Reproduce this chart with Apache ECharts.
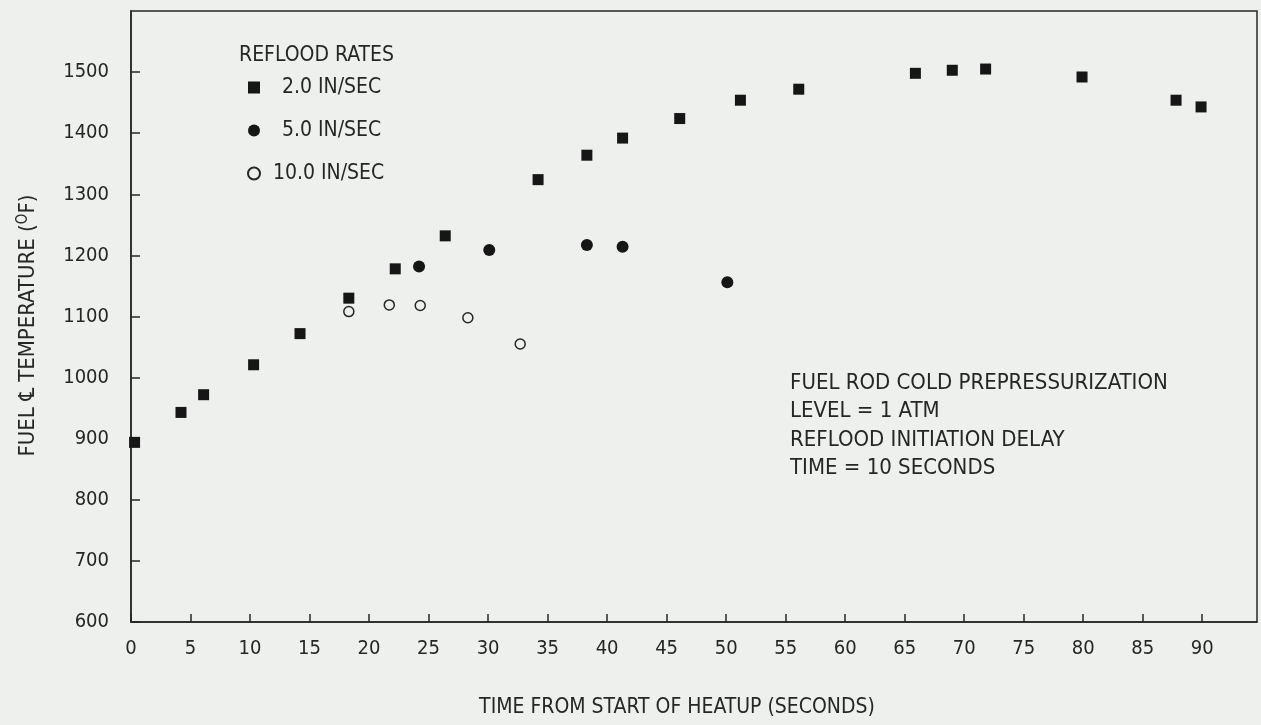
<!DOCTYPE html>
<html>
<head>
<meta charset="utf-8">
<script src="https://cdn.jsdelivr.net/npm/echarts@6/dist/echarts.min.js"></script>
<style>
html,body{margin:0;padding:0;background:#edf0ec;}
#chart{width:1261px;height:725px;}
</style>
</head>
<body>
<div id="chart"></div>
<script>
// Data: [time (s), fuel centerline temperature (°F)]
const rate20 = [
  [0.3, 894], [4.2, 943], [6.1, 972], [10.3, 1021], [14.2, 1072], [18.3, 1130],
  [22.2, 1178], [26.4, 1232], [34.2, 1324], [38.3, 1364], [41.3, 1392], [46.1, 1424],
  [51.2, 1454], [56.1, 1472], [65.9, 1498], [69.0, 1503], [71.8, 1505], [79.9, 1492],
  [87.8, 1454], [89.9, 1443]
];
const rate50 = [
  [24.2, 1182], [30.1, 1209], [38.3, 1217], [41.3, 1214], [50.1, 1156]
];
const rate100 = [
  [18.3, 1108], [21.7, 1119], [24.3, 1118], [28.3, 1098], [32.7, 1055]
];
const seriesNames = ['2.0 IN/SEC', '5.0 IN/SEC', '10.0 IN/SEC'];
const xTicks = [0, 94.6, 5];     // min, max, interval
const yTicks = [600, 1600, 100]; // min, max, interval
const legendTitle = 'REFLOOD RATES';
const noteLines = ['FUEL ROD COLD PREPRESSURIZATION', 'LEVEL = 1 ATM', 'REFLOOD INITIATION DELAY', 'TIME = 10 SECONDS'];
const xName = 'TIME FROM START OF HEATUP (SECONDS)';
const yName = 'FUEL \u2104 TEMPERATURE ({s|O}F)';

const FONT = "'DejaVu Sans Condensed','Liberation Sans Narrow','Liberation Sans',sans-serif";
const INK = '#262626';
const MARK = '#161616';

const chart = echarts.init(document.getElementById('chart'), null, {renderer: 'canvas'});
chart.setOption({
  backgroundColor: '#edf0ec',
  animation: false,
  textStyle: {fontFamily: FONT, color: INK},
  title: [
    {text: legendTitle, left: 239, top: 45, padding: 0,
     textStyle: {fontFamily: FONT, fontSize: 21, fontWeight: 'normal', color: INK}},
    {text: noteLines.join('\n'), left: 790, top: 369, padding: 0,
     textStyle: {fontFamily: FONT, fontSize: 22, fontWeight: 'normal', color: INK, lineHeight: 28.5}}
  ],
  legend: {
    orient: 'vertical', left: 242, top: 72, itemGap: 22, itemWidth: 12, itemHeight: 12,
    textStyle: {fontFamily: FONT, fontSize: 21, color: INK},
    data: [
      {name: seriesNames[0], textStyle: {padding: [0, 0, 0, 17]}},
      {name: seriesNames[1], textStyle: {padding: [0, 0, 0, 17]}},
      {name: seriesNames[2], textStyle: {padding: [0, 0, 0, 8]}}
    ]
  },
  grid: {left: 131, right: 4, top: 11, bottom: 103, show: true, borderColor: INK, borderWidth: 1.5, backgroundColor: 'transparent'},
  xAxis: {
    type: 'value', min: xTicks[0], max: xTicks[1], interval: xTicks[2],
    name: xName, nameLocation: 'middle', nameGap: 75,
    nameTextStyle: {fontFamily: FONT, fontSize: 21, color: INK, padding: [0, 34, 0, 0]},
    axisLine: {lineStyle: {color: INK, width: 1.5}},
    axisTick: {inside: true, length: 8, lineStyle: {color: INK, width: 1.5}},
    axisLabel: {fontFamily: FONT, fontSize: 20, color: INK, margin: 17, showMaxLabel: false,
      formatter: v => (v % 5 === 0 ? String(v) : '')},
    splitLine: {show: false}
  },
  yAxis: {
    type: 'value', min: yTicks[0], max: yTicks[1], interval: yTicks[2],
    name: yName, nameLocation: 'middle', nameGap: 90, nameRotate: 90,
    nameTextStyle: {fontFamily: FONT, fontSize: 22, color: INK, padding: [0, 18, 0, 0],
      rich: {s: {fontFamily: FONT, fontSize: 15, color: INK, verticalAlign: 'top', padding: [0, 0, 10, 0]}}},
    axisLine: {lineStyle: {color: INK, width: 1.5}},
    axisTick: {inside: true, length: 9, lineStyle: {color: INK, width: 1.5}},
    axisLabel: {fontFamily: FONT, fontSize: 20, color: INK, margin: 22, showMaxLabel: false,
      formatter: v => String(v)},
    splitLine: {show: false}
  },
  series: [
    {name: seriesNames[0], type: 'scatter', data: rate20, symbol: 'rect', symbolSize: 11,
     itemStyle: {color: MARK, opacity: 1}},
    {name: seriesNames[1], type: 'scatter', data: rate50, symbol: 'circle', symbolSize: 12,
     itemStyle: {color: MARK, opacity: 1}},
    {name: seriesNames[2], type: 'scatter', data: rate100, symbol: 'circle', symbolSize: 10,
     itemStyle: {color: 'rgba(0,0,0,0)', borderColor: INK, borderWidth: 1.5, opacity: 1}}
  ]
});
</script>
</body>
</html>
